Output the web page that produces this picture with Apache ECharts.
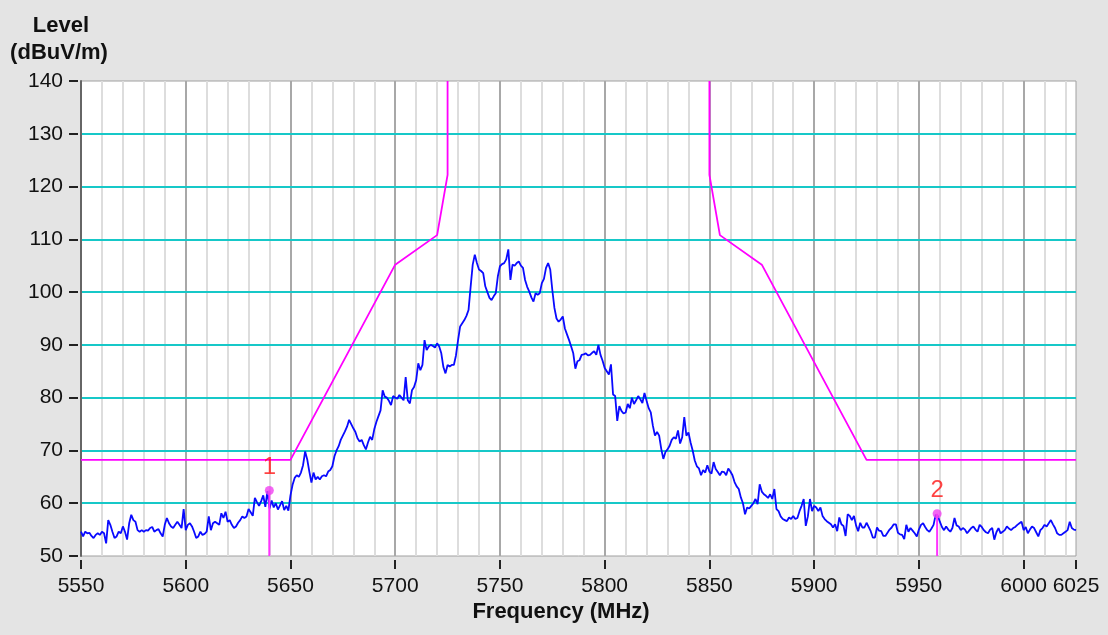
<!DOCTYPE html>
<html><head><meta charset="utf-8">
<script src="https://cdn.jsdelivr.net/npm/echarts@6/dist/echarts.min.js"></script>
<style>html,body{margin:0;padding:0;background:#e4e4e4}#c{width:1108px;height:635px}</style>
</head><body><div id="c"></div>
<script>
const xTickLabels = [5550,5600,5650,5700,5750,5800,5850,5900,5950,6000,6025];
const yTickLabels = [50,60,70,80,90,100,110,120,130,140];
const traceStartMHz = 5550;
const traceStepMHz = 1;
const traceLevels = [
54.6,53.7,54.6,54.3,54.4,53.8,53.4,54.0,54.3,54.0,
54.6,54.3,52.4,56.8,55.9,54.6,53.4,53.7,54.6,54.3,
55.6,54.6,53.1,56.2,57.8,56.8,56.5,54.9,54.6,54.9,
54.6,54.9,54.8,55.3,55.5,54.6,54.9,55.1,54.3,53.7,
55.9,57.2,56.2,55.6,55.3,55.9,56.5,55.9,55.3,58.9,
54.9,55.9,56.2,55.6,54.6,53.4,53.7,54.6,54.0,54.2,
54.6,57.5,54.9,56.2,56.5,56.2,55.9,58.1,57.2,58.4,
56.5,56.8,55.9,55.3,55.6,56.3,56.8,57.5,57.2,57.5,
58.9,58.3,57.6,61.0,60.2,59.5,60.4,61.5,59.3,62.3,
59.0,60.5,59.2,60.0,58.8,59.6,60.4,58.7,59.5,58.6,
61.5,63.5,64.8,65.3,65.0,65.8,67.2,69.8,68.3,66.0,
63.9,65.8,64.5,65.0,64.5,65.1,65.3,65.1,66.0,66.3,
67.0,68.9,70.0,70.8,72.0,72.8,73.6,74.5,75.8,75.0,
74.2,73.5,72.3,71.7,72.0,71.0,70.2,71.5,72.6,72.0,
74.0,75.4,76.5,77.6,81.4,80.2,80.0,79.4,78.6,80.3,
80.0,79.8,80.5,80.0,79.5,83.9,79.5,78.9,81.4,82.0,
83.3,86.5,85.2,86.2,90.9,89.0,89.7,90.0,89.8,89.5,
90.3,89.7,88.4,85.8,84.6,86.2,85.9,86.2,86.2,88.0,
90.9,93.5,94.1,94.7,95.5,96.6,101.0,105.2,107.1,105.5,
104.3,104.0,103.6,101.1,100.0,98.9,98.5,99.2,99.8,103.0,
104.9,105.3,105.5,106.2,108.1,102.3,105.2,105.0,105.5,105.8,
105.0,104.6,102.3,101.0,100.1,99.0,98.2,99.8,99.5,99.8,
101.7,102.5,104.6,105.5,104.3,100.4,97.0,95.0,94.4,94.8,
95.4,93.1,92.0,90.9,89.7,88.4,85.5,86.9,87.1,88.1,
88.2,88.4,88.0,88.1,88.5,88.8,88.1,90.0,88.1,87.0,
85.6,85.0,84.4,86.3,80.6,80.3,75.6,78.4,77.5,77.0,
77.2,78.8,78.0,80.0,78.8,79.5,80.3,79.7,79.0,80.9,
79.4,78.0,77.2,74.7,72.8,73.5,72.8,70.3,68.4,69.7,
70.2,70.9,72.0,72.5,72.2,73.8,71.3,72.5,76.3,72.8,
73.4,71.5,70.0,68.1,67.0,66.6,65.3,66.3,65.8,67.2,
66.0,65.6,67.8,66.5,65.9,65.3,66.0,65.9,65.3,66.6,
66.0,65.3,64.0,63.2,62.7,61.1,60.0,57.9,59.2,59.0,
59.5,60.0,60.8,59.8,63.6,62.2,61.7,61.4,61.0,61.7,
60.8,62.7,58.9,58.5,57.5,57.0,56.8,56.6,57.3,57.0,
57.6,57.0,57.2,58.5,59.5,60.8,55.7,57.5,60.8,58.5,
59.5,59.2,58.5,59.2,57.6,57.0,56.6,56.3,56.0,55.4,
56.0,54.7,57.3,56.0,55.7,53.8,57.9,57.6,56.8,57.6,
55.8,54.7,56.3,55.4,55.4,56.3,55.5,54.7,53.5,53.5,
55.4,54.8,54.7,53.8,53.8,54.4,55.0,55.4,56.0,56.0,
54.4,54.1,54.0,53.2,55.9,54.6,55.3,54.8,54.3,53.7,
55.0,55.9,56.2,55.5,54.9,54.6,55.2,55.9,57.8,57.6,
56.5,55.5,54.9,55.6,55.0,54.6,55.3,57.2,55.8,55.6,
54.9,55.3,55.0,54.3,54.8,55.3,55.6,55.0,54.6,55.9,
55.5,54.9,54.5,54.3,55.0,55.3,53.1,54.5,55.3,54.3,
54.6,54.9,55.6,55.2,54.9,55.3,55.5,55.9,56.2,56.5,
54.9,55.5,54.3,55.0,55.6,55.3,54.5,53.7,54.9,55.3,
55.9,55.6,56.2,56.8,56.0,55.3,54.3,54.0,54.0,54.3,
54.6,54.9,56.5,55.3,55.0,54.9
];
const limitLowFreqs = [5550,5650,5700,5720,5725,5725];
const limitLowLevels = [68.2,68.2,105.2,110.8,122.2,140];
const limitHighFreqs = [5850,5850,5855,5875,5925,6025];
const limitHighLevels = [140,122.2,110.8,105.2,68.2,68.2];
const markerNames = ['1','2'];
const markerFreqs = [5639.9,5958.7];
const markerLevels = [62.4,58.0];

const FONT = "'Liberation Sans', Arial, sans-serif";
const traceData = traceLevels.map((v,i)=>[traceStartMHz + i*traceStepMHz, v]);
const lowData = limitLowFreqs.map((f,i)=>[f, limitLowLevels[i]]);
const highData = limitHighFreqs.map((f,i)=>[f, limitHighLevels[i]]);

const series = [
  {type:'line', xAxisIndex:1, yAxisIndex:0, data:traceData, showSymbol:false, symbol:'none',
   lineStyle:{color:'#0a0aff', width:1.8}, z:3},
  {type:'line', xAxisIndex:1, yAxisIndex:0, data:lowData, symbol:'none',
   lineStyle:{color:'#ff00ff', width:1.8}, z:4},
  {type:'line', xAxisIndex:1, yAxisIndex:0, data:highData, symbol:'none',
   lineStyle:{color:'#ff00ff', width:1.8}, z:4}
];
markerNames.forEach((n,i)=>{
  series.push({type:'line', xAxisIndex:1, yAxisIndex:0, symbol:'none',
    data:[[markerFreqs[i], yTickLabels[0]],[markerFreqs[i], markerLevels[i]]],
    lineStyle:{color:'#ff33ff', width:2}, z:5});
});
series.push({type:'scatter', xAxisIndex:1, yAxisIndex:0, symbolSize:9,
  itemStyle:{color:'#f040f0'}, z:6,
  data: markerNames.map((n,i)=>({value:[markerFreqs[i], markerLevels[i]], name:n})),
  label:{show:true, position:'top', distance:7, formatter:p=>p.name,
    color:'#ff1414', fontSize:24, fontFamily:FONT}});

const chart = echarts.init(document.getElementById('c'), null, {renderer:'canvas'});
chart.setOption({
  animation:false,
  backgroundColor:'#e4e4e4',
  grid:{left:81, right:32, top:81, bottom:79, show:true, backgroundColor:'#ffffff',
        borderColor:'#a0a0a0', borderWidth:1},
  xAxis:[
    {type:'value', min:5550, max:6025, interval:10, z:0,
     axisLine:{show:false}, axisTick:{show:false}, axisLabel:{show:false},
     splitLine:{show:true, showMinLine:false, showMaxLine:false, lineStyle:{color:'#dddddd', width:2}}},
    {type:'value', min:5550, max:6025, interval:50, position:'bottom', offset:4, z:1,
     axisLine:{show:false},
     axisTick:{show:true, length:9, customValues:xTickLabels, lineStyle:{color:'#222', width:2}},
     axisLabel:{show:true, customValues:xTickLabels, formatter:v=>String(v), margin:16,
       color:'#111111', fontSize:21, fontFamily:FONT},
     splitLine:{show:true, showMinLine:false, showMaxLine:false, lineStyle:{color:'#a8a8a8', width:2}}}
  ],
  yAxis:[
    {type:'value', min:50, max:140, interval:10, position:'left', offset:3, z:2,
     axisLine:{show:false},
     axisTick:{show:true, length:9, lineStyle:{color:'#222', width:2}},
     axisLabel:{show:true, margin:15, formatter:v=>String(v), color:'#111111', fontSize:21, fontFamily:FONT},
     splitLine:{show:true, showMinLine:false, showMaxLine:false, lineStyle:{color:'#16c8c8', width:2}}},
    {type:'value', min:50, max:140, interval:10, position:'left', offset:0, z:2,
     axisLine:{show:true, lineStyle:{color:'#666666', width:2}},
     axisTick:{show:false}, axisLabel:{show:false}, splitLine:{show:false}}
  ],
  graphic:[
    {type:'text', x:61, y:26, style:{text:'Level', textAlign:'center', textVerticalAlign:'middle',
      font:"bold 22px 'Liberation Sans', Arial, sans-serif", fill:'#111111'}},
    {type:'text', x:59, y:53, style:{text:'(dBuV/m)', textAlign:'center', textVerticalAlign:'middle',
      font:"bold 22px 'Liberation Sans', Arial, sans-serif", fill:'#111111'}},
    {type:'text', x:561, y:612, style:{text:'Frequency (MHz)', textAlign:'center', textVerticalAlign:'middle',
      font:"bold 22px 'Liberation Sans', Arial, sans-serif", fill:'#111111'}}
  ],
  series: series
});
</script></body></html>
